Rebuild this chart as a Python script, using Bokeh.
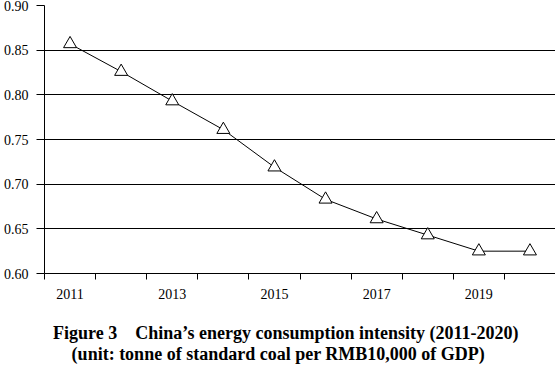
from bokeh.plotting import figure
from bokeh.layouts import column
from bokeh.models import Range1d, FixedTicker, NumeralTickFormatter
from bokeh.core.properties import value
from bokeh.embed import file_html
from bokeh.resources import INLINE

years = [2011, 2012, 2013, 2014, 2015, 2016, 2017, 2018, 2019, 2020]
intensity = [0.857, 0.826, 0.793, 0.761, 0.719, 0.683, 0.661, 0.643, 0.625, 0.625]
x_tick_labels = [2011, 2013, 2015, 2017, 2019]
y_ticks = [0.60, 0.65, 0.70, 0.75, 0.80, 0.85, 0.90]
captions = ["Figure 3\u00a0\u00a0\u00a0\u00a0China\u2019s energy consumption intensity (2011-2020)",
            "(unit: tonne of standard coal per RMB10,000 of GDP)"]

FONT = "Liberation Serif"

p = figure(width=555, height=305, output_backend="svg", toolbar_location=None,
           x_range=Range1d(years[0] - 0.5, years[-1] + 0.5),
           y_range=Range1d(y_ticks[0], y_ticks[-1]),
           min_border_left=42, min_border_right=0, min_border_top=5, min_border_bottom=32)
p.outline_line_color = None
p.background_fill_color = "white"
p.border_fill_color = "white"

# x axis: labels at category centres, tick marks at category boundaries
p.xaxis.ticker = FixedTicker(ticks=x_tick_labels,
                             minor_ticks=[y - 0.5 for y in years] + [years[-1] + 0.5])
p.xaxis.major_tick_out = 0
p.xaxis.major_tick_in = 0
p.xaxis.minor_tick_out = 6
p.xaxis.minor_tick_in = 0
p.xaxis.minor_tick_line_color = "black"
p.xaxis.axis_line_color = "black"
p.xaxis.major_label_standoff = 9
p.xaxis.major_label_text_font = FONT
p.xaxis.major_label_text_font_size = "14px"
p.xaxis.major_label_text_color = "black"
p.xgrid.grid_line_color = None

# y axis
p.yaxis.ticker = FixedTicker(ticks=y_ticks)
p.yaxis.formatter = NumeralTickFormatter(format="0.00")
p.yaxis.major_tick_out = 8
p.yaxis.major_tick_in = 0
p.yaxis.minor_tick_out = 0
p.yaxis.minor_tick_in = 0
p.yaxis.major_tick_line_color = "black"
p.yaxis.axis_line_color = "black"
p.yaxis.major_label_standoff = 8
p.yaxis.major_label_text_font = FONT
p.yaxis.major_label_text_font_size = "14px"
p.yaxis.major_label_text_color = "black"
p.ygrid.ticker = FixedTicker(ticks=y_ticks)
p.ygrid.grid_line_color = "black"
p.ygrid.grid_line_width = 1

p.line(years, intensity, line_color="black", line_width=1)
p.scatter(years, intensity, marker="triangle", size=13, fill_color="white",
          line_color="black", line_width=1)

# caption panel below the chart
c = figure(width=555, height=62, output_backend="svg", toolbar_location=None,
           x_range=Range1d(0, 555), y_range=Range1d(62, 0),
           min_border=0, min_border_left=0, min_border_right=0,
           min_border_top=0, min_border_bottom=0)
c.axis.visible = False
c.grid.visible = False
c.outline_line_color = None
c.background_fill_color = "white"
c.border_fill_color = "white"
c.text(x=[262, 254], y=[27, 48], text=captions,
       text_align="center", text_baseline="middle",
       text_font=value(FONT), text_font_style="bold",
       text_font_size="18px", text_color="black")

layout = column(p, c, spacing=0)
open("out.html", "w").write(file_html(layout, INLINE))
